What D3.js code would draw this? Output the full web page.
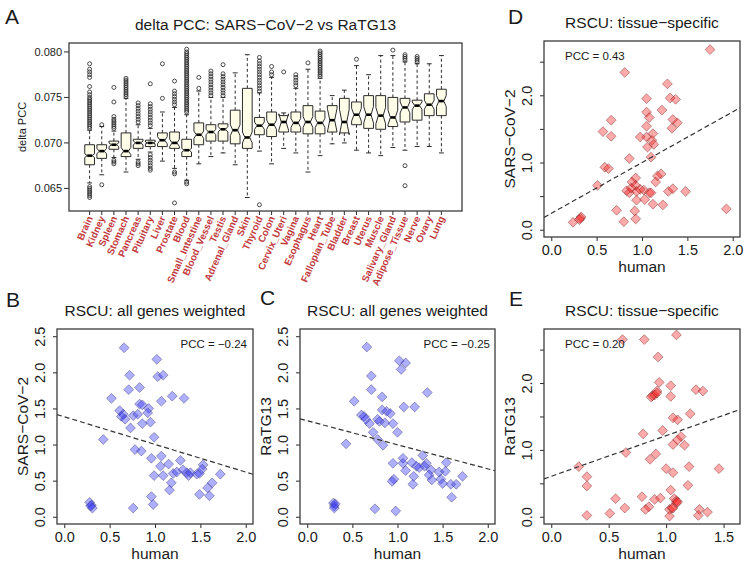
<!DOCTYPE html>
<html><head><meta charset="utf-8">
<script src="https://cdn.jsdelivr.net/npm/d3@7"></script>
<style>
body{margin:0;background:#fff}
svg{display:block}
text{font-family:"Liberation Sans",Arial,Helvetica,sans-serif;fill:#1a1a1a}
</style>
</head><body>
<script>
// ---------------- DATA ----------------
const tissues = ["Brain","Kidney","Spleen","Stomach","Pancreas","Pituitary","Liver","Prostate","Blood","Small_Intestine","Blood_Vessel","Testis","Adrenal_Gland","Skin","Thyroid","Colon","Cervix_Uteri","Vagina","Esophagus","Heart","Fallopian_Tube","Bladder","Breast","Uterus","Muscle","Salivary_Gland","Adipose_Tissue","Nerve","Ovary","Lung"];
const boxQ1  = [0.0676,0.0683,0.0693,0.0685,0.0694,0.0696,0.0696,0.0694,0.0685,0.0698,0.0702,0.0702,0.0699,0.0694,0.0709,0.0707,0.0712,0.0712,0.0710,0.0710,0.0712,0.0711,0.0720,0.0716,0.0715,0.0718,0.0723,0.0725,0.0730,0.0730];
const boxMed = [0.0686,0.0691,0.0698,0.0691,0.0700,0.0700,0.0703,0.0700,0.0692,0.0709,0.0712,0.0715,0.0714,0.0706,0.0719,0.0720,0.0723,0.0722,0.0723,0.0722,0.0725,0.0723,0.0731,0.0731,0.0730,0.0728,0.0739,0.0741,0.0742,0.0746];
const boxQ3  = [0.0698,0.0698,0.0702,0.0711,0.0704,0.0703,0.0711,0.0712,0.0704,0.0722,0.0720,0.0721,0.0736,0.0760,0.0728,0.0734,0.0730,0.0734,0.0741,0.0735,0.0741,0.0749,0.0745,0.0752,0.0752,0.0750,0.0749,0.0747,0.0754,0.0759];
const whiskLo = [0.0656,0.0665,0.0684,0.0668,0.0682,0.0690,0.0680,0.0672,0.0659,0.0677,0.0685,0.0689,0.0676,0.0640,0.0691,0.0677,0.0694,0.0689,0.0668,0.0686,0.0699,0.0700,0.0692,0.0689,0.0686,0.0695,0.0692,0.0696,0.0696,0.0689];
const whiskHi = [0.0714,0.0718,0.0713,0.0749,0.0720,0.0716,0.0734,0.0739,0.0731,0.0757,0.0750,0.0750,0.0777,0.0797,0.0755,0.0772,0.0733,0.0760,0.0781,0.0771,0.0752,0.0758,0.0785,0.0775,0.0796,0.0796,0.0789,0.0787,0.0787,0.0796];
const notchHalf = [0.0002,0.0003,0.0002,0.0004,0.0002,0.0001,0.0004,0.0004,0.0002,0.0004,0.0003,0.0003,0.0006,0.0006,0.0004,0.0005,0.0009,0.0005,0.0006,0.0005,0.0013,0.0014,0.0007,0.0009,0.0009,0.0008,0.0006,0.0004,0.0005,0.0006];
const boxOutliers = [
 [0.0787,0.0781,0.0778,0.0775,0.0772,0.0762,0.0756,0.0753,0.0750,0.0748,0.0746,0.0744,0.0742,0.0740,0.0738,0.0736,0.0734,0.0732,0.0730,0.0728,0.0726,0.0724,0.0722,0.0720,0.0718,0.0716,0.0652,0.0650,0.0648,0.0646,0.0644,0.0642,0.0640],
 [0.0720,0.0654],
 [0.0716,0.0718,0.0720,0.0722,0.0724,0.0726,0.0729,0.0745,0.0761,0.0681,0.0679,0.0677],
 [0.0751,0.0753,0.0755,0.0757,0.0759,0.0761,0.0763,0.0765,0.0767,0.0769,0.0771],
 [0.0723,0.0726,0.0729,0.0732,0.0735,0.0738,0.0741,0.0744,0.0679,0.0677,0.0675],
 [0.0719,0.0722,0.0725,0.0728,0.0731,0.0734,0.0737,0.0740,0.0743,0.0765,0.0687,0.0684,0.0681,0.0678,0.0675,0.0672,0.0670],
 [0.0749,0.0787],
 [0.0742,0.0745,0.0748,0.0751,0.0754,0.0757,0.0768,0.0668,0.0666,0.0634],
 [0.0734,0.0736,0.0738,0.0740,0.0742,0.0744,0.0746,0.0748,0.0750,0.0752,0.0754,0.0756,0.0758,0.0760,0.0762,0.0764,0.0766,0.0768,0.0770,0.0772,0.0774,0.0776,0.0778,0.0780,0.0782,0.0784,0.0786,0.0788,0.0790,0.0792,0.0794,0.0796,0.0798,0.0800,0.0803,0.0657,0.0655],
 [0.0760,0.0772],
 [0.0752,0.0755,0.0758,0.0761,0.0764,0.0767,0.0770,0.0773,0.0776,0.0779],
 [0.0752,0.0755,0.0758,0.0761,0.0764,0.0767,0.0770,0.0773,0.0776,0.0786],
 [],
 [],
 [0.0757,0.0760,0.0763,0.0766,0.0769,0.0772,0.0775,0.0778,0.0781,0.0784,0.0787,0.0790,0.0794,0.0632],
 [0.0775,0.0778,0.0784],
 [0.0778],
 [0.0763,0.0766,0.0769,0.0772,0.0775],
 [0.0788],
 [0.0773,0.0775,0.0777,0.0779,0.0781,0.0783,0.0785,0.0787,0.0789,0.0791,0.0793,0.0795,0.0797,0.0799,0.0801],
 [],
 [],
 [0.0792],
 [],
 [],
 [0.0802],
 [0.0791,0.0793,0.0795,0.0797,0.0675,0.0653],
 [0.0789,0.0791,0.0793,0.0795],
 [],
 []
];
const boxYTicks = [0.065,0.070,0.075,0.080];
const boxYLabels = ["0.065","0.070","0.075","0.080"];

const bHuman = [0.66,1.02,0.72,1.03,1.09,0.71,0.83,0.52,1.19,1.32,1.07,0.83,0.86,0.93,0.61,0.65,0.63,0.76,0.81,0.92,0.67,0.86,0.95,0.73,0.99,0.43,0.78,0.85,0.96,1.07,1.15,1.28,1.06,0.99,1.09,1.20,1.24,1.31,1.35,1.37,1.39,1.46,1.49,1.53,1.52,1.72,1.63,1.58,1.60,1.49,1.18,1.16,0.96,0.98,0.76,0.28,0.30,0.31,0.29];
const bSars  = [2.34,2.18,1.96,1.94,1.96,1.76,1.79,1.64,1.67,1.64,1.60,1.56,1.55,1.50,1.47,1.42,1.39,1.40,1.42,1.44,1.35,1.29,1.31,1.23,1.10,1.07,0.93,0.91,0.81,0.84,0.73,0.78,0.70,0.57,0.57,0.60,0.62,0.65,0.61,0.57,0.61,0.59,0.60,0.72,0.66,0.59,0.47,0.40,0.29,0.31,0.47,0.37,0.28,0.17,0.12,0.20,0.16,0.12,0.15];
const cHuman = [0.66,1.02,1.09,1.04,0.71,0.71,0.83,0.52,1.33,1.07,1.19,0.83,0.88,0.92,0.60,0.63,0.65,0.78,0.80,0.86,0.95,0.69,0.73,1.00,0.43,0.78,0.84,0.95,1.06,1.06,1.16,1.21,1.28,1.32,1.37,1.09,1.18,0.96,0.94,1.17,1.35,1.38,1.46,1.54,1.53,1.48,1.50,1.59,1.65,1.72,1.60,0.75,0.98,0.29,0.30,0.31,0.30,1.24,1.30];
const cRatg  = [2.35,2.16,2.13,2.04,1.95,1.76,1.66,1.60,1.72,1.52,1.52,1.48,1.46,1.43,1.41,1.39,1.35,1.35,1.32,1.30,1.29,1.29,1.17,1.17,1.01,1.07,0.99,0.74,0.81,0.74,0.75,0.70,0.85,0.74,0.65,0.64,0.56,0.52,0.49,0.45,0.58,0.51,0.62,0.75,0.63,0.52,0.46,0.45,0.45,0.56,0.27,0.11,0.08,0.19,0.15,0.18,0.12,0.68,0.70];
const dHuman = [1.75,0.81,1.28,1.05,1.31,1.37,1.22,1.05,1.08,0.66,1.34,1.39,1.33,0.57,0.66,1.05,0.98,1.05,1.12,1.11,1.13,1.06,1.10,0.86,0.59,0.63,1.21,1.17,1.15,0.93,0.89,0.93,0.51,0.83,0.86,0.94,1.02,1.08,1.29,1.34,1.48,0.94,1.03,1.12,1.23,0.72,0.92,0.93,0.80,1.93,0.24,0.32,0.33,0.31,0.88,0.98,1.10];
const dSars  = [2.68,2.34,2.17,1.95,1.96,1.94,1.78,1.75,1.67,1.63,1.64,1.59,1.51,1.46,1.39,1.54,1.38,1.38,1.43,1.33,1.27,1.23,1.08,1.06,0.93,0.91,0.83,0.80,0.71,0.77,0.71,0.66,0.66,0.58,0.55,0.57,0.59,0.55,0.57,0.61,0.57,0.44,0.45,0.38,0.37,0.29,0.28,0.16,0.12,0.31,0.11,0.17,0.19,0.15,0.62,0.60,0.55];
const eHuman = [1.09,0.62,0.81,0.93,0.94,1.04,1.26,1.32,0.92,0.88,0.87,1.04,1.06,1.10,1.21,0.80,0.97,1.13,1.10,1.06,1.16,0.65,0.91,0.86,1.00,1.06,1.20,1.46,0.24,0.31,0.31,1.19,1.04,0.56,0.79,0.90,0.95,1.07,0.64,0.82,0.85,1.09,1.09,1.10,1.03,1.05,1.03,0.31,0.51,1.29,1.28,1.36,1.06,0.90,0.92];
const eRatg  = [2.72,2.65,2.65,2.39,2.01,1.96,1.90,1.88,1.88,1.81,1.79,1.80,1.48,1.45,1.54,1.24,1.29,1.20,1.15,1.08,1.07,0.96,0.94,0.86,0.72,0.66,0.75,0.72,0.75,0.60,0.46,0.47,0.40,0.27,0.30,0.26,0.28,0.27,0.13,0.11,0.15,0.24,0.21,0.22,0.11,0.13,0.01,0.02,0.05,0.11,0.02,0.07,0.13,1.82,1.85];

const panelPCC = ["PCC = \u22120.24","PCC = \u22120.25","PCC = 0.43","PCC = 0.20"];
const fitIntercept = [1.385, 1.33, 0.244, 0.605];
const fitSlope = [-0.383, -0.333, 0.755, 0.608];

const ticksX2 = [0,0.5,1,1.5,2];
const labelsX2 = ["0.0","0.5","1.0","1.5","2.0"];
const ticksXE = [0,0.5,1,1.5];
const labelsXE = ["0.0","0.5","1.0","1.5"];
const ticksY25 = [0,0.5,1,1.5,2,2.5];
const labelsY25 = ["0.0","0.5","1.0","1.5","2.0","2.5"];
const labelsYTS = ["0.0","","1.0","","2.0",""];

// ---------------- DRAW ----------------
const svg = d3.select("body").append("svg").attr("width",746).attr("height",566);
const ext = (lo,hi)=>{const d=(hi-lo)*0.04; return [lo-d,hi+d];};
const INK = "#2b2b2b";

function frame(x0,y0,x1,y1){
  svg.append("rect").attr("x",x0).attr("y",y0).attr("width",x1-x0).attr("height",y1-y0)
    .attr("fill","none").attr("stroke","#3c3c3c").attr("stroke-width",1.3);
}
function letter(t,x,y){
  svg.append("text").attr("x",x).attr("y",y).attr("font-size",21).text(t);
}

// ----- Panel A -----
(function(){
  const x0=69,x1=462,y0=43,y1=211;
  const x = d3.scaleLinear().domain(ext(0.5,tissues.length+0.5)).range([x0,x1]);
  const y = d3.scaleLinear().domain(ext(0.0632,0.0803)).range([y1,y0]);
  const g = svg.append("g");
  const u = x(1)-x(0);
  const wex = 0.4*u, wn = 0.2*u;
  tissues.forEach((t,i)=>{
    const cx = x(i+1);
    const q1=boxQ1[i], md=boxMed[i], q3=boxQ3[i], nh=notchHalf[i];
    g.append("line").attr("x1",cx).attr("x2",cx).attr("y1",y(q3)).attr("y2",y(whiskHi[i]))
      .attr("stroke",INK).attr("stroke-width",1).attr("stroke-dasharray","3,2.5");
    g.append("line").attr("x1",cx).attr("x2",cx).attr("y1",y(q1)).attr("y2",y(whiskLo[i]))
      .attr("stroke",INK).attr("stroke-width",1).attr("stroke-dasharray","3,2.5");
    [whiskHi[i],whiskLo[i]].forEach(v=>{
      g.append("line").attr("x1",cx-wn).attr("x2",cx+wn).attr("y1",y(v)).attr("y2",y(v))
        .attr("stroke",INK).attr("stroke-width",1);
    });
    const pts = [[cx-wex,y(q1)],[cx-wex,y(md-nh)],[cx-wn,y(md)],[cx-wex,y(md+nh)],[cx-wex,y(q3)],
                 [cx+wex,y(q3)],[cx+wex,y(md+nh)],[cx+wn,y(md)],[cx+wex,y(md-nh)],[cx+wex,y(q1)]];
    g.append("path").attr("d",d3.line()(pts)+"Z").attr("fill","#fdfde8").attr("stroke",INK).attr("stroke-width",1);
    g.append("line").attr("x1",cx-wn).attr("x2",cx+wn).attr("y1",y(md)).attr("y2",y(md))
      .attr("stroke","#000").attr("stroke-width",2.6);
    boxOutliers[i].forEach(v=>{
      g.append("circle").attr("cx",cx).attr("cy",y(v)).attr("r",2)
        .attr("fill","none").attr("stroke","#222").attr("stroke-width",0.8);
    });
    g.append("line").attr("x1",cx).attr("x2",cx).attr("y1",y1).attr("y2",y1+4).attr("stroke",INK);
    g.append("text").attr("transform",`translate(${cx+3.5},${y1+7}) rotate(-66)`)
      .attr("text-anchor","end").attr("font-size",9.8).attr("font-weight","bold")
      .style("fill","#c23a3e").text(t);
  });
  frame(x0,y0,x1,y1);
  boxYTicks.forEach((v,i)=>{
    g.append("line").attr("x1",x0-5).attr("x2",x0).attr("y1",y(v)).attr("y2",y(v)).attr("stroke",INK);
    g.append("text").attr("x",x0-7).attr("y",y(v)+4).attr("text-anchor","end").attr("font-size",11).text(boxYLabels[i]);
  });
  svg.append("text").attr("transform",`translate(26,${(y0+y1)/2}) rotate(-90)`).attr("text-anchor","middle")
    .attr("font-size",11).text("delta PCC");
  svg.append("text").attr("x",(x0+x1)/2).attr("y",29.5).attr("text-anchor","middle").attr("font-size",15.5)
    .text("delta PCC: SARS\u2212CoV\u22122 vs RaTG13");
  letter("A",5,24);
})();

// ----- scatter panels -----
function scatter(p){
  const x = d3.scaleLinear().domain(ext(p.xlim[0],p.xlim[1])).range([p.x0,p.x1]);
  const y = d3.scaleLinear().domain(ext(p.ylim[0],p.ylim[1])).range([p.y1,p.y0]);
  const g = svg.append("g");
  const cid = "clip"+p.id;
  svg.append("clipPath").attr("id",cid).append("rect").attr("x",p.x0).attr("y",p.y0)
    .attr("width",p.x1-p.x0).attr("height",p.y1-p.y0);
  const s = 4.9;
  p.xs.forEach((xv,i)=>{
    const cx=x(xv), cy=y(p.ys[i]);
    g.append("path").attr("d",`M${cx},${cy-s}L${cx+s},${cy}L${cx},${cy+s}L${cx-s},${cy}Z`)
      .attr("fill",p.fill).attr("stroke",p.stroke).attr("stroke-width",0.8);
  });
  const xd = x.domain();
  g.append("line").attr("clip-path",`url(#${cid})`)
    .attr("x1",x(xd[0])).attr("y1",y(p.a+p.b*xd[0])).attr("x2",x(xd[1])).attr("y2",y(p.a+p.b*xd[1]))
    .attr("stroke","#333").attr("stroke-width",1.2).attr("stroke-dasharray","5,3");
  frame(p.x0,p.y0,p.x1,p.y1);
  const ax = g.append("g").attr("transform",`translate(0,${p.y1})`)
    .call(d3.axisBottom(x).tickValues(p.xt).tickSize(4).tickFormat((d,i)=>p.xl[i]));
  ax.select(".domain").remove();
  ax.attr("font-size",null).attr("font-family",null);
  ax.selectAll("line").attr("stroke",INK);
  ax.selectAll("text").attr("y",18).attr("dy",null).attr("font-size",14.5).style("fill","#1a1a1a");
  const ay = g.append("g").attr("transform",`translate(${p.x0},0)`)
    .call(d3.axisLeft(y).tickValues(p.yt).tickSize(4).tickFormat((d,i)=>p.yl[i]));
  ay.select(".domain").remove();
  ay.attr("font-size",null).attr("font-family",null);
  ay.selectAll("line").attr("stroke",INK);
  ay.selectAll("text").attr("x",0).attr("y",-12).attr("dy",null).attr("text-anchor","middle")
    .attr("transform","rotate(-90)").attr("font-size",14.5).style("fill","#1a1a1a");
  svg.append("text").attr("x",(p.x0+p.x1)/2).attr("y",p.y1+35).attr("text-anchor","middle")
    .attr("font-size",15.5).text("human");
  svg.append("text").attr("transform",`translate(${p.x0-29},${(p.y0+p.y1)/2}) rotate(-90)`)
    .attr("text-anchor","middle").attr("font-size",15.5).text(p.ylab);
  svg.append("text").attr("x",(p.x0+p.x1)/2).attr("y",p.y0-13.5).attr("text-anchor","middle")
    .attr("font-size",15.5).text(p.title);
  svg.append("text").attr("x",p.pccX).attr("y",p.y0+19).attr("text-anchor",p.pccAnchor)
    .attr("font-size",11.5).text(p.pcc);
  letter(p.letter,p.lx,p.ly);
}

const blueFill="rgba(45,45,255,0.38)", blueStroke="rgba(50,50,110,0.55)";
const redFill="rgba(255,20,20,0.36)", redStroke="rgba(110,30,30,0.55)";

scatter({id:"B",x0:57,x1:253,y0:329,y1:524,xlim:[0,2],ylim:[0,2.5],xs:bHuman,ys:bSars,
  a:fitIntercept[0],b:fitSlope[0],fill:blueFill,stroke:blueStroke,xt:ticksX2,xl:labelsX2,yt:ticksY25,yl:labelsY25,
  ylab:"SARS\u2212CoV\u22122",title:"RSCU: all genes weighted",pcc:panelPCC[0],pccX:247,pccAnchor:"end",letter:"B",lx:6,ly:307});
scatter({id:"C",x0:300,x1:495,y0:329,y1:524,xlim:[0,2],ylim:[0,2.5],xs:cHuman,ys:cRatg,
  a:fitIntercept[1],b:fitSlope[1],fill:blueFill,stroke:blueStroke,xt:ticksX2,xl:labelsX2,yt:ticksY25,yl:labelsY25,
  ylab:"RaTG13",title:"RSCU: all genes weighted",pcc:panelPCC[1],pccX:490,pccAnchor:"end",letter:"C",lx:260,ly:305});
scatter({id:"D",x0:544,x1:740,y0:41,y1:237,xlim:[0,2],ylim:[0,2.7],xs:dHuman,ys:dSars,
  a:fitIntercept[2],b:fitSlope[2],fill:redFill,stroke:redStroke,xt:ticksX2,xl:labelsX2,yt:ticksY25,yl:labelsYTS,
  ylab:"SARS\u2212CoV\u22122",title:"RSCU: tissue\u2212specific",pcc:panelPCC[2],pccX:565,pccAnchor:"start",letter:"D",lx:508,ly:24});
scatter({id:"E",x0:544,x1:740,y0:329,y1:524,xlim:[0,1.58],ylim:[0,2.7],xs:eHuman,ys:eRatg,
  a:fitIntercept[3],b:fitSlope[3],fill:redFill,stroke:redStroke,xt:ticksXE,xl:labelsXE,yt:ticksY25,yl:labelsYTS,
  ylab:"RaTG13",title:"RSCU: tissue\u2212specific",pcc:panelPCC[3],pccX:565,pccAnchor:"start",letter:"E",lx:509,ly:306});
</script>
</body></html>
